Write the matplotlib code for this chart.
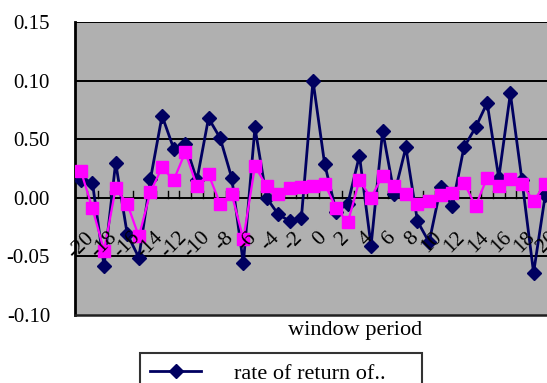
import matplotlib
matplotlib.use('Agg')
import matplotlib.pyplot as plt
import numpy as np

plt.rcParams['font.family'] = ['Liberation Serif', 'DejaVu Serif']

# 窗口期（-20 到 20）
periods = list(range(-20, 21))
# 深蓝色折线：收益率
rate_return = [0.015, 0.013, -0.058, 0.030, -0.031, -0.051, 0.016, 0.070, 0.042, 0.046,
               0.015, 0.068, 0.051, 0.017, -0.056, 0.060, 0.000, -0.014, -0.020, -0.017,
               0.100, 0.029, -0.012, -0.005, 0.036, -0.041, 0.057, 0.003, 0.043, -0.020,
               -0.038, 0.009, -0.007, 0.043, 0.060, 0.081, 0.017, 0.089, 0.015, -0.064,
               0.002]
# 品红色折线
rate_other = [0.023, -0.009, -0.045, 0.008, -0.005, -0.033, 0.005, 0.026, 0.015, 0.039,
              0.010, 0.020, -0.005, 0.003, -0.035, 0.027, 0.010, 0.003, 0.008, 0.009,
              0.010, 0.012, -0.009, -0.021, 0.015, 0.000, 0.019, 0.010, 0.003, -0.005,
              -0.003, 0.002, 0.004, 0.013, -0.007, 0.017, 0.010, 0.016, 0.012, -0.003,
              0.012]
y_ticks = [-0.10, -0.05, 0.00, 0.05, 0.10, 0.15]
y_tick_labels = ['-0.10', '-0.05', '0.00', '0.50', '0.10', '0.15']
x_label_periods = list(range(-20, 21, 2))
series_names = ['rate of return of..', 'abnormal return of..']

fig = plt.figure(figsize=(5.47, 3.83), dpi=100)
ax = fig.add_axes([75 / 547, 1 - 315 / 383, 476 / 547, 293 / 383])
ax.set_facecolor('#b0b0b0')

ax.set_xlim(-20.5, 20.5)
ax.set_ylim(-0.10, 0.15)

# 网格线
for v in y_ticks[1:]:
    ax.axhline(v, color='black', lw=1.4, zorder=1)

l1, = ax.plot(periods, rate_return, color='#000060', lw=2, marker='D', markersize=7.5,
              zorder=3, label=series_names[0])
l2, = ax.plot(periods, rate_other, color='#ff00ff', lw=1.6, marker='s', markersize=9,
              zorder=4, label=series_names[1])

# 坐标轴
ax.spines['top'].set_visible(False)
ax.spines['right'].set_visible(False)
ax.spines['left'].set_linewidth(2)
ax.spines['bottom'].set_linewidth(1.8)
ax.spines['bottom'].set_color('#202020')

ax.set_yticks(y_ticks)
ax.set_yticklabels(y_tick_labels, fontsize=15)
ax.tick_params(axis='y', length=0, pad=18)

# x 轴在 0 处，刻度线在类别边界
ax.set_xticks([])
bounds = np.arange(-20.5, 21, 1)
for b in bounds:
    ax.plot([b, b], [0, 0.0055], color='black', lw=1, zorder=2)
for p in x_label_periods:
    ax.text(p + 0.3, -0.026, str(p), rotation=45, ha='right', va='top',
            rotation_mode='anchor', fontsize=15.5, zorder=5)

fig.text(355 / 547, 1 - 330 / 383, 'window period', ha='center', va='center', fontsize=16)

leg = fig.legend(handles=[l1, l2], loc='upper left', bbox_to_anchor=(140 / 547, 1 - 353 / 383),
                 fontsize=16, frameon=True, fancybox=False, edgecolor='black',
                 borderpad=0.45, borderaxespad=0, handlelength=2.3, handletextpad=1.5)
leg.get_frame().set_linewidth(1.5)

fig.savefig('out.png', dpi=100)
